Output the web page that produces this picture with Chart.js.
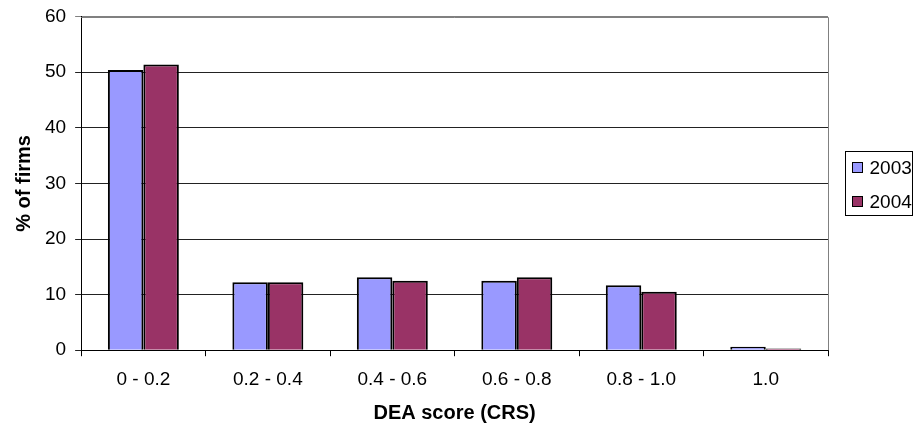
<!DOCTYPE html>
<html>
<head>
<meta charset="utf-8">
<script src="https://cdn.jsdelivr.net/npm/chart.js@4.4.1/dist/chart.umd.min.js"></script>
<style>
  html, body { margin: 0; padding: 0; background: #fff; }
  #wrap { width: 917px; height: 425px; }
</style>
</head>
<body>
<div id="wrap"><canvas id="canvas"></canvas></div>
<script>
// categories / series
const categories = ['0 - 0.2', '0.2 - 0.4', '0.4 - 0.6', '0.6 - 0.8', '0.8 - 1.0', '1.0'];
const firms2003 = [50.4, 12.2, 13.1, 12.5, 11.7, 0.6];
const firms2004 = [51.4, 12.2, 12.5, 13.1, 10.5, 0.3];
const yTicks = [0, 10, 20, 30, 40, 50, 60];

const fontFamily = '"Liberation Sans", Arial, sans-serif';

// grey frame on top/right of the plot area, plus a boxed legend to the right
const frames = {
  id: 'frames',
  afterDraw(chart) {
    const c = chart.ctx;
    const a = chart.chartArea;
    c.save();
    c.strokeStyle = '#808080';
    c.lineWidth = 1;
    c.beginPath();
    c.moveTo(a.left, Math.round(a.top) + 0.5);
    c.lineTo(Math.round(a.right) + 0.5, Math.round(a.top) + 0.5);
    c.lineTo(Math.round(a.right) + 0.5, a.bottom);
    c.stroke();

    // legend
    const bx = Math.round(a.right) + 17.5, by = 151.5, bw = 67, bh = 64;
    c.strokeStyle = '#000';
    c.strokeRect(bx, by, bw, bh);
    c.font = '19px ' + fontFamily;
    c.textBaseline = 'middle';
    c.textAlign = 'left';
    chart.data.datasets.forEach((ds, i) => {
      const cy = by + 16 + i * 34;
      c.fillStyle = ds.backgroundColor;
      c.fillRect(bx + 7, cy - 5, 10, 10);
      c.strokeStyle = '#000';
      c.strokeRect(bx + 7, cy - 5, 10, 10);
      c.fillStyle = '#000';
      c.fillText(ds.label, bx + 24, cy + 1);
    });
    c.restore();
  }
};

const ctx = document.getElementById('canvas').getContext('2d');
const chart = new Chart(ctx, {
  type: 'bar',
  data: {
    labels: categories,
    datasets: [{
      label: '2003',
      data: firms2003,
      backgroundColor: '#9999ff',
      borderColor: '#000',
      borderWidth: 2
    }, {
      label: '2004',
      data: firms2004,
      backgroundColor: '#993366',
      borderColor: '#000',
      borderWidth: 2
    }]
  },
  options: {
    responsive: true,
    maintainAspectRatio: false,
    animation: false,
    devicePixelRatio: 1,
    layout: { padding: { left: 14, top: 6, right: 89, bottom: 2 } },
    datasets: { bar: { categoryPercentage: 0.57, barPercentage: 1.0 } },
    plugins: {
      tooltip: { enabled: false },
      legend: { display: false }
    },
    scales: {
      x: {
        grid: {
          offset: true,
          drawOnChartArea: false,
          drawTicks: true,
          tickLength: 6,
          color: '#000'
        },
        border: { color: '#000', width: 1 },
        ticks: {
          font: { family: fontFamily, size: 19 },
          color: '#000',
          padding: 12
        },
        title: {
          display: true,
          text: 'DEA score (CRS)',
          font: { family: fontFamily, size: 20, weight: 'bold', lineHeight: 1 },
          color: '#000',
          padding: { top: 0, bottom: 0 }
        }
      },
      y: {
        min: 0,
        max: 60,
        afterBuildTicks(axis) {
          axis.ticks = yTicks.map(v => ({ value: v }));
        },
        grid: {
          color: g => g.tick && g.tick.value === 60 ? '#808080' : '#222',
          tickLength: 6,
          drawTicks: true
        },
        border: { color: '#000', width: 1 },
        ticks: {
          font: { family: fontFamily, size: 19, lineHeight: 0.8 },
          color: '#000',
          padding: 9
        },
        title: {
          display: true,
          text: '% of firms',
          font: { family: fontFamily, size: 20, weight: 'bold', lineHeight: 1 },
          color: '#000',
          padding: { top: 0, bottom: 2 }
        }
      }
    }
  },
  plugins: [frames]
});
</script>
</body>
</html>
